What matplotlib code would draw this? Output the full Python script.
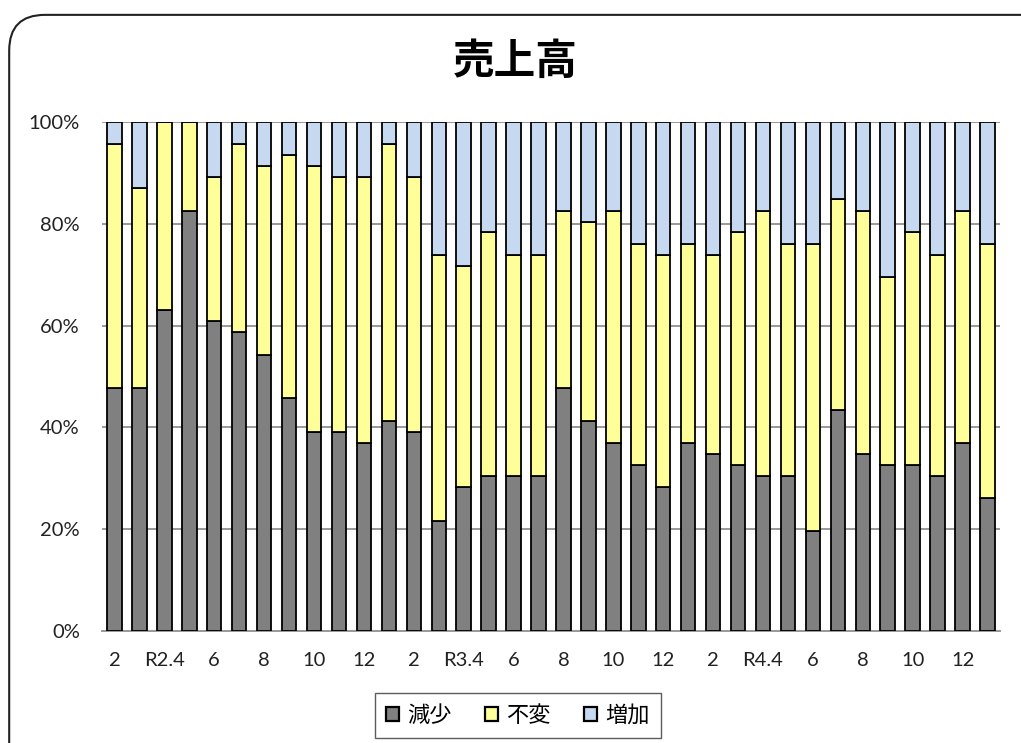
import matplotlib
matplotlib.use("Agg")
import matplotlib.pyplot as plt
from matplotlib.patches import FancyBboxPatch, Patch
from matplotlib.ticker import PercentFormatter
import numpy as np

plt.rcParams['font.family'] = ['Lato', 'Noto Sans CJK JP', 'DejaVu Sans']

# Monthly survey: share of respondents reporting decrease / no change / increase in sales
months = ["2", "3", "R2.4", "5", "6", "7", "8", "9", "10", "11", "12", "R3.1",
          "2", "3", "R3.4", "5", "6", "7", "8", "9", "10", "11", "12", "R4.1",
          "2", "3", "R4.4", "5", "6", "7", "8", "9", "10", "11", "12", "R5.1"]
decrease = [47.8, 47.8, 63.0, 82.6, 60.9, 58.7, 54.3, 45.7, 39.1, 39.1, 37.0, 41.3,
            39.1, 21.7, 28.3, 30.4, 30.4, 30.4, 47.8, 41.3, 37.0, 32.6, 28.3, 37.0,
            34.8, 32.6, 30.4, 30.4, 19.6, 43.5, 34.8, 32.6, 32.6, 30.4, 37.0, 26.1]
unchanged = [47.9, 39.2, 37.0, 17.4, 28.2, 37.0, 37.0, 47.8, 52.2, 50.0, 52.1, 54.4,
             50.0, 52.2, 43.4, 47.9, 43.5, 43.5, 34.8, 39.1, 45.6, 43.5, 45.6, 39.1,
             39.1, 45.7, 52.2, 45.7, 56.5, 41.3, 47.8, 37.0, 45.7, 43.5, 45.6, 50.0]
increase = [4.3, 13.0, 0.0, 0.0, 10.9, 4.3, 8.7, 6.5, 8.7, 10.9, 10.9, 4.3,
            10.9, 26.1, 28.3, 21.7, 26.1, 26.1, 17.4, 19.6, 17.4, 23.9, 26.1, 23.9,
            26.1, 21.7, 17.4, 23.9, 23.9, 15.2, 17.4, 30.4, 21.7, 26.1, 17.4, 23.9]
series_names = ["減少", "不変", "増加"]
series_colors = ["#808080", "#FFFF99", "#C6D9F1"]

fig = plt.figure(figsize=(10.21, 7.43), dpi=100)
ax = fig.add_axes([0.0999, 0.1507, 0.8795, 0.6851])

x = np.arange(len(months))
width = 0.58
bottom = np.zeros(len(months))
for vals, name, color in zip([decrease, unchanged, increase], series_names, series_colors):
    v = np.array(vals)
    ax.bar(x, v, width, bottom=bottom, color=color, edgecolor="black",
           linewidth=1.3, label=name, zorder=3)
    bottom += v

ax.set_xlim(-0.5, len(months) - 0.5)
ax.set_ylim(0, 100)
ax.set_yticks(np.arange(0, 101, 20))
ax.yaxis.set_major_formatter(PercentFormatter(decimals=0))
ax.grid(axis="y", color="#999999", linewidth=1.4, zorder=0)
ax.set_axisbelow(True)

ax.set_xticks(x[::2])
ax.set_xticklabels(months[::2])
for s in ["top", "right", "left"]:
    ax.spines[s].set_visible(False)
ax.spines["bottom"].set_color("#999999")
ax.spines["bottom"].set_linewidth(1.4)
ax.tick_params(axis="both", length=0, labelsize=14.5, colors="#222222")
ax.tick_params(axis="x", pad=15)
ax.tick_params(axis="y", pad=16)

fig.text(0.505, 0.917, "売上高", ha="center", va="center",
         fontsize=30, fontweight="bold", family=["Noto Sans CJK JP"])

handles = [Patch(facecolor=c, edgecolor="black", linewidth=1.6) for c in series_colors]
leg = fig.legend(handles, series_names, loc="center", bbox_to_anchor=(0.507, 0.037),
                 ncol=3, frameon=True, fancybox=False,
                 prop={"family": ["Noto Sans CJK JP"], "size": 16},
                 handlelength=0.6, handleheight=0.6, handletextpad=0.35,
                 columnspacing=1.5, borderpad=0.5, borderaxespad=0.0)
leg.get_frame().set_edgecolor("#333333")
leg.get_frame().set_linewidth(1.0)

# Rounded frame around the chart area
frame = FancyBboxPatch((0.009, -0.1), 1.05, 1.08,
                       boxstyle="round,pad=0,rounding_size=0.035",
                       transform=fig.transFigure, facecolor="none",
                       edgecolor="#222222", linewidth=1.5, mutation_aspect=1021 / 743)
fig.patches.append(frame)

fig.savefig("out.png", dpi=100)
